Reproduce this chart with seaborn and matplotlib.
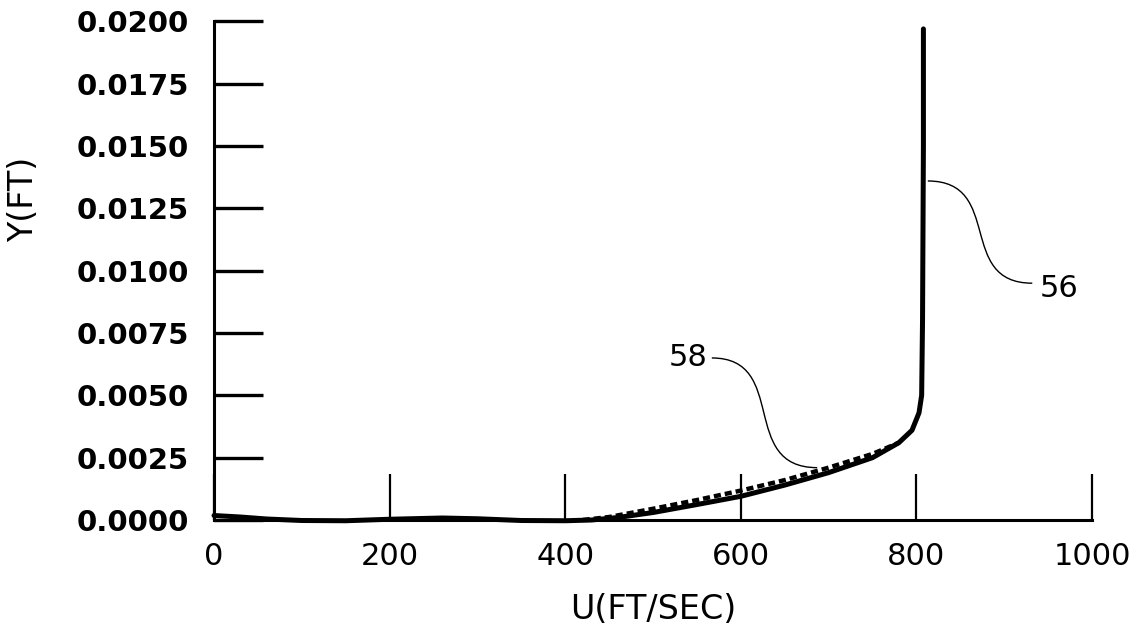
import numpy as np
import pandas as pd
import matplotlib
matplotlib.use("Agg")
import matplotlib.pyplot as plt
from matplotlib.path import Path
from matplotlib.patches import PathPatch
import seaborn as sns

# ==========================================
# DATA
# ==========================================
# curve 56 - solid velocity profile
u_56 = [0, 30, 60, 100, 150, 200, 260, 300, 350, 400, 430, 460, 500, 550,
        600, 650, 700, 750, 780, 795, 803, 806, 807, 808, 808]
y_56 = [0.00018, 0.00012, 0.00004, -0.00002, -0.00003, 0.00003, 0.00008,
        0.00005, -0.00002, -0.00003, 0.0, 0.0001, 0.0003, 0.00062, 0.00095,
        0.0014, 0.0019, 0.0025, 0.0031, 0.0036, 0.0043, 0.0050, 0.0080,
        0.0150, 0.0197]

# curve 58 - dashed profile
u_58 = [420, 450, 500, 550, 600, 650, 700, 750, 780]
y_58 = [0.0, 0.00012, 0.00045, 0.0008, 0.00118, 0.0016, 0.0021, 0.00265, 0.0031]

x_ticks = [0, 200, 400, 600, 800, 1000]
y_ticks = [0.0, 0.0025, 0.0050, 0.0075, 0.0100, 0.0125, 0.0150, 0.0175, 0.0200]

# leader lines: start, end, label position
lead_56 = [(813, 0.0136), (932, 0.0095)]
lead_58 = [(567, 0.0065), (687, 0.0021)]
label_56 = (940, 0.0093)
label_58 = (562, 0.0065)

# ==========================================
# PLOT
# ==========================================
sns.set_style("white")
plt.rcParams['font.family'] = ['DejaVu Sans']
plt.rcParams['text.color'] = 'black'
plt.rcParams['axes.labelcolor'] = 'black'

fig = plt.figure(figsize=(11.42, 6.4), dpi=100)
ax = fig.add_axes([0.1874, 0.1875, 0.7688, 0.779])

df56 = pd.DataFrame({"U": u_56, "Y": y_56})
df58 = pd.DataFrame({"U": u_58, "Y": y_58})

sns.lineplot(data=df56, x="U", y="Y", ax=ax, color="black", lw=3.6,
             sort=False, estimator=None, clip_on=False, zorder=3)
sns.lineplot(data=df58, x="U", y="Y", ax=ax, color="black", lw=3.2,
             sort=False, estimator=None, clip_on=False, zorder=4,
             dashes=False, linestyle=(0, (1.6, 0.9)))


def leader(p0, p3, xmid_a, xmid_b):
    # S-shaped callout line as a cubic bezier
    verts = [p0, (xmid_a, p0[1]), (xmid_b, p3[1]), p3]
    codes = [Path.MOVETO, Path.CURVE4, Path.CURVE4, Path.CURVE4]
    ax.add_patch(PathPatch(Path(verts, codes), fc="none", ec="black",
                           lw=1.0, clip_on=False))


leader(lead_56[0], lead_56[1], 900, 845)
leader(lead_58[0], lead_58[1], 655, 597)

ax.text(label_56[0], label_56[1], "56", fontsize=22, ha="left", va="center",
        color="black")
ax.text(label_58[0], label_58[1], "58", fontsize=22, ha="right", va="center",
        color="black")

ax.set_xlim(0, 1000)
ax.set_ylim(0, 0.02)
ax.set_xticks(x_ticks)
ax.set_yticks(y_ticks)
ax.set_yticklabels([f"{v:.4f}" for v in y_ticks], fontweight="bold")

for side in ["top", "right"]:
    ax.spines[side].set_visible(False)
for side in ["left", "bottom"]:
    ax.spines[side].set_linewidth(2.2)
    ax.spines[side].set_color("black")

ax.tick_params(axis="y", left=True, direction="in", length=35, width=2.4,
               labelsize=21, pad=18, colors="black")
ax.tick_params(axis="x", bottom=True, direction="in", length=33, width=1.6,
               labelsize=22, pad=16, colors="black")

ax.set_xlabel("U(FT/SEC)", fontsize=24, labelpad=16)
ax.set_ylabel("Y(FT)", fontsize=24)
ax.yaxis.set_label_coords(-0.198, 0.643)

fig.savefig("out.png", dpi=100)
